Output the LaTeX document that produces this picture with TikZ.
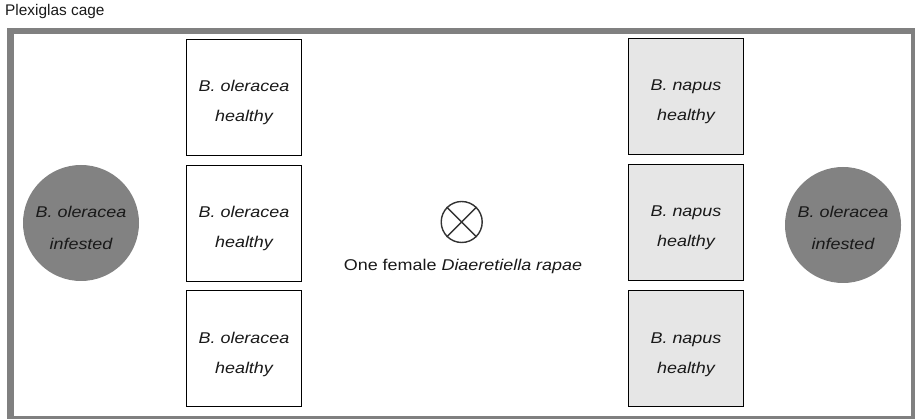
\documentclass[tikz,border=0pt]{standalone}
\usepackage{fontspec}
\setmainfont{Liberation Sans}
\newfontfamily\lblfont[FakeStretch=1.15]{Liberation Sans}
\definecolor{framegray}{RGB}{128,128,128}
\definecolor{infgray}{RGB}{130,130,130}
\definecolor{napusfill}{RGB}{230,230,230}
\definecolor{txt}{RGB}{25,25,25}
\tikzset{
  plantbox/.style={draw=black, line width=1pt, minimum width=115pt, minimum height=116pt, inner sep=0pt, anchor=north west},
  oleracea/.style={plantbox, fill=white},
  napus/.style={plantbox, fill=napusfill},
  infcircle/.style={circle, fill=infgray, minimum size=116pt, inner sep=0pt},
  lbl/.style={anchor=base, inner sep=0pt, text=txt, font=\lblfont\fontsize{15.6}{18}\selectfont\itshape},
  plainlbl/.style={anchor=base, inner sep=0pt, text=txt, font=\lblfont\fontsize{15.6}{18}\selectfont},
}
\begin{document}
\begin{tikzpicture}[x=1pt,y=-1pt]
\useasboundingbox (0,0) rectangle (915,419);
\fill[white] (0,0) rectangle (915,419);
% title
\node[anchor=base west, inner sep=0pt, text=txt, font=\fontsize{15.4}{18}\selectfont] (title) at (5,16) {Plexiglas cage};
% cage frame
\node[draw=framegray, line width=6.5pt, minimum width=904pt, minimum height=388pt, inner sep=0pt, anchor=north west] (cage) at (7,28) {};
% left column boxes
\node[oleracea] (L1) at (186,39) {};
\node[oleracea] (L2) at (186,165) {};
\node[oleracea] (L3) at (186,290) {};
% right column boxes
\node[napus] (R1) at (628,38) {};
\node[napus] (R2) at (628,164) {};
\node[napus] (R3) at (628,290) {};
% labels in boxes
\foreach \b in {L1,L2,L3}{
  \node[lbl] (\b a) at ([yshift=-53pt]\b.north) {B. oleracea};
  \node[lbl] (\b b) at ([yshift=-83pt]\b.north) {healthy};
}
\foreach \b in {R1,R2,R3}{
  \node[lbl] (\b a) at ([yshift=-53pt]\b.north) {B. napus};
  \node[lbl] (\b b) at ([yshift=-83pt]\b.north) {healthy};
}
% infested circles
\node[infcircle] (CL) at (81,223) {};
\node[infcircle] (CR) at (843,225) {};
\node[lbl] (CLa) at (81,218) {B. oleracea};
\node[lbl] (CLb) at (81,250) {infested};
\node[lbl] (CRa) at (843,218) {B. oleracea};
\node[lbl] (CRb) at (843,250) {infested};
% release point
\node[circle, draw=black!80, line width=1.4pt, minimum size=41pt, inner sep=0pt] (X) at (461.7,222) {};
\draw[black!80, line width=1.4pt] (X.north west) -- (X.south east) (X.north east) -- (X.south west);
\node[plainlbl] (wasp) at (463,271) {One female \textit{Diaeretiella rapae}};
\end{tikzpicture}
\end{document}
